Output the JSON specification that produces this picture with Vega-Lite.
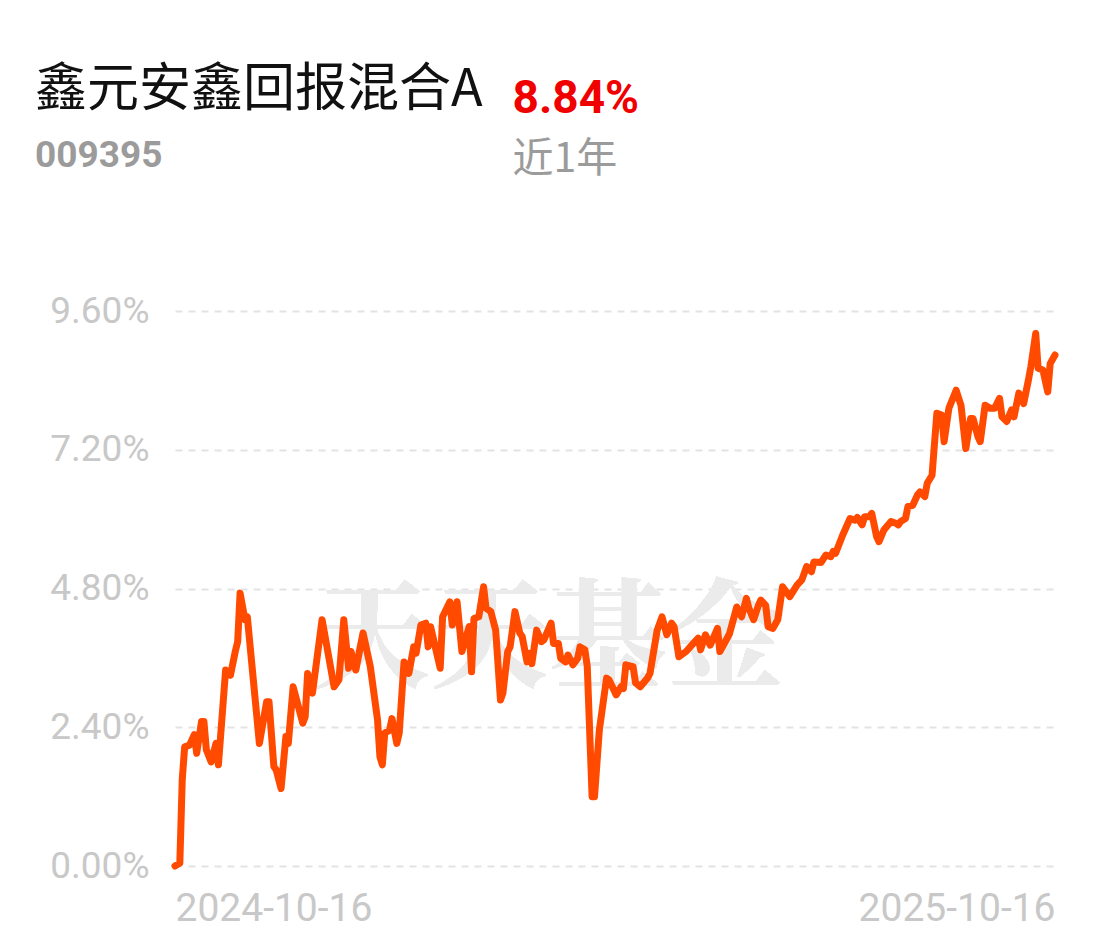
{
  "$schema": "https://vega.github.io/schema/vega-lite/v6.json",
  "width": 880,
  "height": 555,
  "autosize": {"type": "none"},
  "padding": {"left": 175, "top": 311, "right": 47, "bottom": 85},
  "background": "white",
  "title": {
    "text": "鑫元安鑫回报混合A",
    "subtitle": "009395",
    "anchor": "start",
    "frame": "group",
    "dx": -140,
    "offset": -100,
    "font": "Noto Sans CJK SC",
    "fontSize": 52,
    "fontWeight": "normal",
    "color": "#111111",
    "subtitleFont": "Roboto",
    "subtitleFontSize": 37,
    "subtitleFontWeight": "bold",
    "subtitleColor": "#9b9b9b",
    "subtitlePadding": 21
  },
  "config": {
    "view": {"stroke": null},
    "axis": {"domain": false, "ticks": false}
  },
  "data": {
    "values": [
      {"date": "2024-10-16", "r": 0.00},
      {"date": "2024-10-18", "r": 0.05},
      {"date": "2024-10-19", "r": 1.49},
      {"date": "2024-10-20", "r": 2.06},
      {"date": "2024-10-22", "r": 2.09},
      {"date": "2024-10-24", "r": 2.27},
      {"date": "2024-10-25", "r": 1.95},
      {"date": "2024-10-27", "r": 2.50},
      {"date": "2024-10-28", "r": 2.50},
      {"date": "2024-10-29", "r": 2.01},
      {"date": "2024-10-31", "r": 1.80},
      {"date": "2024-11-02", "r": 2.12},
      {"date": "2024-11-03", "r": 1.75},
      {"date": "2024-11-06", "r": 3.39},
      {"date": "2024-11-08", "r": 3.30},
      {"date": "2024-11-10", "r": 3.71},
      {"date": "2024-11-11", "r": 3.88},
      {"date": "2024-11-12", "r": 4.72},
      {"date": "2024-11-14", "r": 4.26},
      {"date": "2024-11-15", "r": 4.31},
      {"date": "2024-11-20", "r": 2.12},
      {"date": "2024-11-23", "r": 2.84},
      {"date": "2024-11-24", "r": 2.84},
      {"date": "2024-11-26", "r": 1.72},
      {"date": "2024-11-27", "r": 1.66},
      {"date": "2024-11-29", "r": 1.34},
      {"date": "2024-12-01", "r": 2.24},
      {"date": "2024-12-02", "r": 2.12},
      {"date": "2024-12-04", "r": 3.10},
      {"date": "2024-12-08", "r": 2.47},
      {"date": "2024-12-09", "r": 2.58},
      {"date": "2024-12-10", "r": 3.33},
      {"date": "2024-12-12", "r": 2.99},
      {"date": "2024-12-16", "r": 4.26},
      {"date": "2024-12-21", "r": 3.10},
      {"date": "2024-12-23", "r": 3.22},
      {"date": "2024-12-25", "r": 4.26},
      {"date": "2024-12-27", "r": 3.42},
      {"date": "2024-12-28", "r": 3.71},
      {"date": "2024-12-30", "r": 3.39},
      {"date": "2025-01-02", "r": 4.03},
      {"date": "2025-01-05", "r": 3.45},
      {"date": "2025-01-08", "r": 2.53},
      {"date": "2025-01-09", "r": 1.89},
      {"date": "2025-01-10", "r": 1.75},
      {"date": "2025-01-11", "r": 2.30},
      {"date": "2025-01-13", "r": 2.35},
      {"date": "2025-01-14", "r": 2.55},
      {"date": "2025-01-16", "r": 2.12},
      {"date": "2025-01-17", "r": 2.30},
      {"date": "2025-01-19", "r": 3.53},
      {"date": "2025-01-20", "r": 3.48},
      {"date": "2025-01-21", "r": 3.33},
      {"date": "2025-01-23", "r": 3.79},
      {"date": "2025-01-24", "r": 3.68},
      {"date": "2025-01-26", "r": 4.17},
      {"date": "2025-01-28", "r": 4.20},
      {"date": "2025-01-29", "r": 3.79},
      {"date": "2025-01-30", "r": 4.14},
      {"date": "2025-02-03", "r": 3.42},
      {"date": "2025-02-04", "r": 4.31},
      {"date": "2025-02-07", "r": 4.57},
      {"date": "2025-02-08", "r": 4.17},
      {"date": "2025-02-10", "r": 4.57},
      {"date": "2025-02-12", "r": 3.71},
      {"date": "2025-02-15", "r": 4.14},
      {"date": "2025-02-16", "r": 3.36},
      {"date": "2025-02-17", "r": 4.28},
      {"date": "2025-02-19", "r": 4.31},
      {"date": "2025-02-21", "r": 4.83},
      {"date": "2025-02-22", "r": 4.46},
      {"date": "2025-02-24", "r": 4.40},
      {"date": "2025-02-26", "r": 4.08},
      {"date": "2025-02-28", "r": 2.87},
      {"date": "2025-03-01", "r": 2.99},
      {"date": "2025-03-03", "r": 3.71},
      {"date": "2025-03-04", "r": 3.79},
      {"date": "2025-03-06", "r": 4.40},
      {"date": "2025-03-08", "r": 4.03},
      {"date": "2025-03-09", "r": 3.97},
      {"date": "2025-03-11", "r": 3.53},
      {"date": "2025-03-12", "r": 3.68},
      {"date": "2025-03-13", "r": 3.50},
      {"date": "2025-03-15", "r": 4.08},
      {"date": "2025-03-17", "r": 3.88},
      {"date": "2025-03-18", "r": 3.91},
      {"date": "2025-03-21", "r": 4.20},
      {"date": "2025-03-22", "r": 3.85},
      {"date": "2025-03-24", "r": 3.85},
      {"date": "2025-03-25", "r": 3.59},
      {"date": "2025-03-27", "r": 3.53},
      {"date": "2025-03-28", "r": 3.65},
      {"date": "2025-03-30", "r": 3.48},
      {"date": "2025-04-01", "r": 3.59},
      {"date": "2025-04-02", "r": 3.79},
      {"date": "2025-04-04", "r": 3.74},
      {"date": "2025-04-05", "r": 3.45},
      {"date": "2025-04-07", "r": 1.20},
      {"date": "2025-04-08", "r": 1.20},
      {"date": "2025-04-10", "r": 2.35},
      {"date": "2025-04-13", "r": 3.25},
      {"date": "2025-04-14", "r": 3.22},
      {"date": "2025-04-17", "r": 2.96},
      {"date": "2025-04-19", "r": 3.10},
      {"date": "2025-04-20", "r": 3.07},
      {"date": "2025-04-21", "r": 3.48},
      {"date": "2025-04-24", "r": 3.45},
      {"date": "2025-04-25", "r": 3.17},
      {"date": "2025-04-27", "r": 3.10},
      {"date": "2025-04-30", "r": 3.25},
      {"date": "2025-05-01", "r": 3.33},
      {"date": "2025-05-04", "r": 4.08},
      {"date": "2025-05-06", "r": 4.31},
      {"date": "2025-05-08", "r": 4.00},
      {"date": "2025-05-10", "r": 4.20},
      {"date": "2025-05-11", "r": 4.14},
      {"date": "2025-05-13", "r": 3.62},
      {"date": "2025-05-16", "r": 3.71},
      {"date": "2025-05-19", "r": 3.85},
      {"date": "2025-05-21", "r": 3.94},
      {"date": "2025-05-22", "r": 3.74},
      {"date": "2025-05-24", "r": 4.00},
      {"date": "2025-05-26", "r": 3.82},
      {"date": "2025-05-29", "r": 4.11},
      {"date": "2025-05-30", "r": 3.71},
      {"date": "2025-06-02", "r": 3.94},
      {"date": "2025-06-03", "r": 4.02},
      {"date": "2025-06-06", "r": 4.48},
      {"date": "2025-06-08", "r": 4.31},
      {"date": "2025-06-10", "r": 4.63},
      {"date": "2025-06-11", "r": 4.46},
      {"date": "2025-06-13", "r": 4.26},
      {"date": "2025-06-15", "r": 4.51},
      {"date": "2025-06-16", "r": 4.60},
      {"date": "2025-06-18", "r": 4.51},
      {"date": "2025-06-19", "r": 4.14},
      {"date": "2025-06-21", "r": 4.11},
      {"date": "2025-06-23", "r": 4.26},
      {"date": "2025-06-25", "r": 4.83},
      {"date": "2025-06-28", "r": 4.66},
      {"date": "2025-07-01", "r": 4.86},
      {"date": "2025-07-03", "r": 4.95},
      {"date": "2025-07-05", "r": 5.18},
      {"date": "2025-07-07", "r": 5.09},
      {"date": "2025-07-08", "r": 5.26},
      {"date": "2025-07-11", "r": 5.25},
      {"date": "2025-07-13", "r": 5.38},
      {"date": "2025-07-15", "r": 5.35},
      {"date": "2025-07-16", "r": 5.44},
      {"date": "2025-07-17", "r": 5.41},
      {"date": "2025-07-20", "r": 5.73},
      {"date": "2025-07-23", "r": 6.01},
      {"date": "2025-07-25", "r": 5.98},
      {"date": "2025-07-26", "r": 6.03},
      {"date": "2025-07-28", "r": 5.90},
      {"date": "2025-07-29", "r": 6.04},
      {"date": "2025-07-31", "r": 6.04},
      {"date": "2025-08-01", "r": 6.10},
      {"date": "2025-08-03", "r": 5.70},
      {"date": "2025-08-04", "r": 5.61},
      {"date": "2025-08-06", "r": 5.81},
      {"date": "2025-08-09", "r": 5.96},
      {"date": "2025-08-11", "r": 5.93},
      {"date": "2025-08-12", "r": 5.90},
      {"date": "2025-08-13", "r": 5.96},
      {"date": "2025-08-15", "r": 6.01},
      {"date": "2025-08-16", "r": 6.22},
      {"date": "2025-08-18", "r": 6.24},
      {"date": "2025-08-20", "r": 6.42},
      {"date": "2025-08-21", "r": 6.47},
      {"date": "2025-08-23", "r": 6.39},
      {"date": "2025-08-24", "r": 6.62},
      {"date": "2025-08-26", "r": 6.76},
      {"date": "2025-08-28", "r": 7.83},
      {"date": "2025-08-30", "r": 7.80},
      {"date": "2025-08-31", "r": 7.34},
      {"date": "2025-09-02", "r": 7.92},
      {"date": "2025-09-05", "r": 8.23},
      {"date": "2025-09-07", "r": 7.97},
      {"date": "2025-09-09", "r": 7.22},
      {"date": "2025-09-11", "r": 7.74},
      {"date": "2025-09-12", "r": 7.74},
      {"date": "2025-09-14", "r": 7.43},
      {"date": "2025-09-15", "r": 7.34},
      {"date": "2025-09-17", "r": 7.97},
      {"date": "2025-09-19", "r": 7.92},
      {"date": "2025-09-21", "r": 7.92},
      {"date": "2025-09-23", "r": 8.09},
      {"date": "2025-09-24", "r": 7.77},
      {"date": "2025-09-26", "r": 7.69},
      {"date": "2025-09-28", "r": 7.89},
      {"date": "2025-09-29", "r": 7.77},
      {"date": "2025-10-01", "r": 8.18},
      {"date": "2025-10-03", "r": 8.00},
      {"date": "2025-10-05", "r": 8.41},
      {"date": "2025-10-06", "r": 8.64},
      {"date": "2025-10-08", "r": 9.21},
      {"date": "2025-10-09", "r": 8.61},
      {"date": "2025-10-11", "r": 8.58},
      {"date": "2025-10-13", "r": 8.20},
      {"date": "2025-10-14", "r": 8.69},
      {"date": "2025-10-16", "r": 8.84}
    ]
  },
  "layer": [
    {
      "mark": {"type": "text", "text": "天天基金", "font": "Noto Serif CJK SC, Noto Sans CJK SC", "fontWeight": "bold", "fontSize": 118, "fill": "#ebebeb", "align": "center", "baseline": "middle"},
      "encoding": {
        "x": {"datum": {"year": 2025, "month": 3, "date": 20, "utc": true}, "type": "temporal"},
        "y": {"datum": 3.85, "type": "quantitative"}
      }
    },
    {
      "mark": {"type": "line", "color": "#ff4a00", "strokeWidth": 7, "strokeJoin": "round", "strokeCap": "round"},
      "encoding": {
        "x": {
          "field": "date",
          "type": "temporal",
          "scale": {"type": "utc", "domain": [{"year": 2024, "month": 10, "date": 16, "utc": true}, {"year": 2025, "month": 10, "date": 16, "utc": true}]},
          "axis": {
            "values": [{"year": 2024, "month": 10, "date": 16, "utc": true}, {"year": 2025, "month": 10, "date": 16, "utc": true}],
            "labelExpr": "utcFormat(datum.value, '%Y-%m-%d')",
            "labelFlush": true,
            "labelLimit": 0,
            "labelFont": "Roboto",
            "labelFontSize": 39,
            "labelColor": "#c8c8c8",
            "labelPadding": 23,
            "grid": false,
            "title": "近1年",
            "titleFont": "Noto Sans CJK SC",
            "titleFontSize": 41,
            "titleFontWeight": "normal",
            "titleColor": "#9b9b9b",
            "titleAlign": "left",
            "titleBaseline": "alphabetic",
            "titleX": 337,
            "titleY": -695
          }
        },
        "y": {
          "field": "r",
          "type": "quantitative",
          "scale": {"domain": [0, 9.6], "nice": false, "zero": true},
          "axis": {
            "values": [0, 2.4, 4.8, 7.2, 9.6],
            "labelExpr": "format(datum.value, '.2f') + '%'",
            "labelFont": "Roboto",
            "labelFontSize": 37,
            "labelColor": "#c8c8c8",
            "labelPadding": 26,
            "grid": true,
            "gridColor": "#e3e3e3",
            "gridWidth": 2,
            "gridDash": [7, 6],
            "title": "8.84%",
            "titleFont": "Roboto",
            "titleFontSize": 46,
            "titleFontWeight": "bold",
            "titleColor": "#f10000",
            "titleAngle": 0,
            "titleAlign": "left",
            "titleBaseline": "alphabetic",
            "titleX": 337,
            "titleY": -199
          }
        }
      }
    }
  ]
}
